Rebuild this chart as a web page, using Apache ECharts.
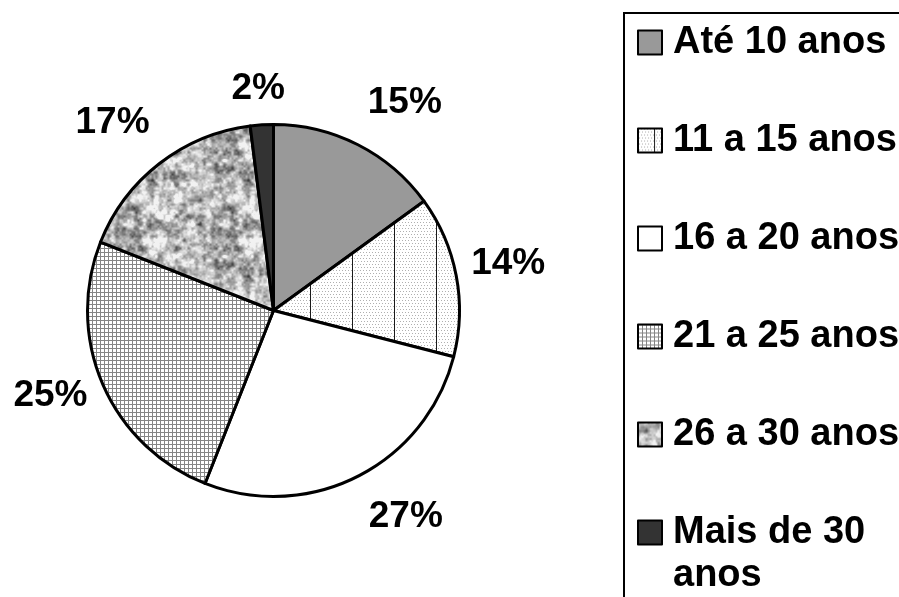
<!DOCTYPE html>
<html>
<head>
<meta charset="utf-8">
<script src="https://cdn.jsdelivr.net/npm/echarts@6/dist/echarts.min.js"></script>
<style>
  html, body { margin: 0; padding: 0; background: #fff; }
  #chart { width: 899px; height: 597px; }
</style>
</head>
<body>
<div id="chart"></div>
<script>
// Age bands and their share of the total (%)
const categories = ['Até 10 anos', '11 a 15 anos', '16 a 20 anos', '21 a 25 anos', '26 a 30 anos', 'Mais de 30 anos'];
const shares = [15, 14, 27, 25, 17, 2];
// Legend text as it is wrapped in the key
const legendLabels = ['Até 10 anos', '11 a 15 anos', '16 a 20 anos', '21 a 25 anos', '26 a 30 anos', 'Mais de 30\nanos'];
// Small nudges for the percentage labels around the pie
const labelNudge = [[21, 9], [-4, -1], [22, -10], [0, -11], [-12, 4], [0, 21]];

const FONT = "'Liberation Sans', Arial, sans-serif";

// ---- fill textures ----
function tile(w, h, draw) {
  const c = document.createElement('canvas');
  c.width = w; c.height = h;
  draw(c.getContext('2d'), w, h);
  return c;
}

// deterministic generator for the stone texture
function mulberry32(a) {
  return function () {
    a |= 0; a = a + 0x6D2B79F5 | 0;
    let t = Math.imul(a ^ a >>> 15, 1 | a);
    t = t + Math.imul(t ^ t >>> 7, 61 | t) ^ t;
    return ((t ^ t >>> 14) >>> 0) / 4294967296;
  };
}

// fine dots with thin vertical rules
const dottedRules = tile(42, 6, (g, w, h) => {
  g.fillStyle = '#fff'; g.fillRect(0, 0, w, h);
  g.fillStyle = '#b0b0b0';
  for (let x = 0; x < w; x += 3) { g.fillRect(x, 0, 1, 1); g.fillRect(x + 1, 3, 1, 1); }
  g.fillStyle = '#1a1a1a'; g.fillRect(16, 0, 1, h);
});

// small square grid
const fineGrid = tile(4, 4, (g, w, h) => {
  g.fillStyle = '#fff'; g.fillRect(0, 0, w, h);
  g.fillStyle = '#858585';
  g.fillRect(0, 0, w, 1); g.fillRect(0, 0, 1, h);
});

// mottled stone
const stone = tile(96, 96, (g, w, h) => {
  const rnd = mulberry32(20240517);
  function layer(cell) {
    const n = w / cell, grid = [];
    for (let i = 0; i < n * n; i++) grid.push(rnd());
    const v = (i, j) => grid[((j % n + n) % n) * n + ((i % n + n) % n)];
    return (x, y) => {
      const gx = x / cell, gy = y / cell;
      const x0 = Math.floor(gx), y0 = Math.floor(gy);
      let fx = gx - x0, fy = gy - y0;
      fx = fx * fx * (3 - 2 * fx); fy = fy * fy * (3 - 2 * fy);
      const a = v(x0, y0) + (v(x0 + 1, y0) - v(x0, y0)) * fx;
      const b = v(x0, y0 + 1) + (v(x0 + 1, y0 + 1) - v(x0, y0 + 1)) * fx;
      return a + (b - a) * fy;
    };
  }
  const coarse = layer(8), mid = layer(4), fine = layer(2);
  const img = g.createImageData(w, h);
  for (let y = 0; y < h; y++) {
    for (let x = 0; x < w; x++) {
      const v = 0.45 * coarse(x, y) + 0.35 * mid(x, y) + 0.2 * fine(x, y);
      let c = 180 + (v - 0.5) * 300;
      c = Math.max(60, Math.min(242, c));
      const k = (y * w + x) * 4;
      img.data[k] = img.data[k + 1] = img.data[k + 2] = c;
      img.data[k + 3] = 255;
    }
  }
  g.putImageData(img, 0, 0);
});

const fills = [
  '#999999',
  { image: dottedRules, repeat: 'repeat' },
  '#ffffff',
  { image: fineGrid, repeat: 'repeat' },
  { image: stone, repeat: 'repeat' },
  '#333333'
];

const chart = echarts.init(document.getElementById('chart'), null, { renderer: 'canvas' });

const pieCenter = [273.5, 310.5];
const keyText = { fontFamily: FONT, fontSize: 38, fontWeight: 'bold', color: '#000', lineHeight: 43 };

chart.setOption({
  animation: false,
  backgroundColor: '#fff',
  graphic: [{
    type: 'rect',
    silent: true,
    shape: { x: 624, y: 13, width: 400, height: 700 },
    style: { fill: 'none', stroke: '#000', lineWidth: 2 }
  }],
  legend: {
    orient: 'vertical',
    left: 637,
    top: -22,
    padding: 0,
    itemGap: -31,
    itemWidth: 24,
    itemHeight: 24,
    icon: 'rect',
    selectedMode: false,
    itemStyle: { borderColor: '#000', borderWidth: 2 },
    textStyle: Object.assign({ rich: { t: keyText } }, keyText),
    data: categories.map((n, i) => ({
      name: n,
      textStyle: { padding: i === categories.length - 1 ? [43, 0, 0, 6] : [43, 0, 43, 6] }
    })),
    formatter: name => legendLabels[categories.indexOf(name)]
      .split('\n').map(s => '{t|' + s + '}').join('\n')
  },
  series: [
    {
      type: 'pie',
      name: 'faixas',
      center: pieCenter,
      radius: 186,
      startAngle: 90,
      clockwise: true,
      silent: true,
      label: { show: false },
      labelLine: { show: false },
      itemStyle: { borderColor: '#000', borderWidth: 3 },
      data: categories.map((n, i) => ({ name: n, value: shares[i], itemStyle: { color: fills[i] } }))
    },
    {
      // transparent ring that carries the percentage labels outside the pie
      type: 'pie',
      name: 'rotulos',
      center: pieCenter,
      radius: [0, 480],
      startAngle: 90,
      clockwise: true,
      silent: true,
      z: 1,
      itemStyle: { color: 'rgba(0,0,0,0)', borderWidth: 0 },
      labelLine: { show: false },
      label: {
        show: true,
        position: 'inside',
        formatter: p => p.value + '%',
        fontFamily: FONT, fontSize: 37, fontWeight: 'bold', color: '#000'
      },
      data: categories.map((n, i) => ({ name: n, value: shares[i], label: { offset: labelNudge[i] } }))
    }
  ]
});
</script>
</body>
</html>
